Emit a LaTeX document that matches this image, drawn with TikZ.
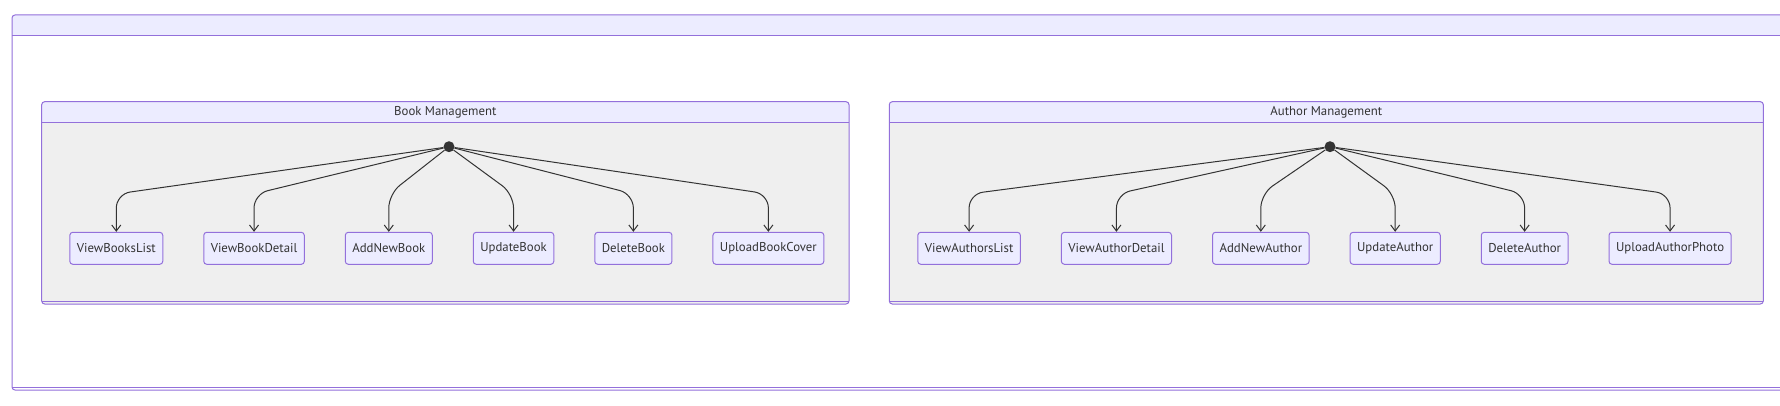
\documentclass[tikz,border=0pt]{standalone}
\usepackage{fontspec}
\setmainfont{PT Sans}
\usetikzlibrary{positioning,arrows.meta}

\definecolor{lav}{HTML}{ECECFF}
\definecolor{purp}{HTML}{9370DB}
\definecolor{clgray}{HTML}{EFEFEF}
\definecolor{ink}{HTML}{333333}

\tikzset{
  state/.style={draw=purp, fill=lav, line width=1pt, rounded corners=3pt,
    minimum height=32pt, inner xsep=7pt, text=ink,
    font=\fontsize{12.8}{15}\selectfont},
  start/.style={circle, fill=ink, inner sep=0pt, minimum size=11pt},
  title/.style={text=ink, font=\fontsize{12.8}{15}\selectfont},
  trans/.style={draw=ink, line width=1pt, rounded corners=14pt,
    -{Straight Barb[length=6pt,width=9pt]}},
  frame/.style={draw=purp, line width=1pt}
}

\begin{document}
\begin{tikzpicture}[x=1pt, y=-1pt, node distance=40pt]
\clip (0,0) rectangle (1780,406);
\fill[white] (0,0) rectangle (1780,406);

% outer frame
\fill[lav, rounded corners=3pt] (12,15) rectangle (1800,36);
\fill[white] (12.5,36) rectangle (1799.5,390);
\draw[frame, rounded corners=3pt] (12,15) rectangle (1800,390);
\draw[frame] (12,36) -- (1800,36);
\draw[frame] (12,387) -- (1800,387);

% Book Management
\fill[clgray, rounded corners=3pt] (41.7,101.7) rectangle (849,304);
\fill[lav, rounded corners=2pt] (41.7,101.7) rectangle (849,122.3);
\draw[frame, rounded corners=3pt] (41.7,101.7) rectangle (849,304);
\draw[frame] (41.7,122.3) -- (849,122.3);
\draw[frame] (41.7,301) -- (849,301);
\node[title] (bmt) at (445.3,112) {Book Management};

% Author Management
\fill[clgray, rounded corners=3pt] (889.3,101.7) rectangle (1763.3,304);
\fill[lav, rounded corners=2pt] (889.3,101.7) rectangle (1763.3,122.3);
\draw[frame, rounded corners=3pt] (889.3,101.7) rectangle (1763.3,304);
\draw[frame] (889.3,122.3) -- (1763.3,122.3);
\draw[frame] (889.3,301) -- (1763.3,301);
\node[title] (amt) at (1326.3,112) {Author Management};

\coordinate (bend) at (0,194);

% book states
\node[start] (bstart) at (449,146.7) {};
\node[state, anchor=west] (vbl) at (69.3,248.3) {ViewBooksList};
\node[state, right=of vbl] (vbd) {ViewBookDetail};
\node[state, right=of vbd] (anb) {AddNewBook};
\node[state, right=of anb] (ub) {UpdateBook};
\node[state, right=of ub] (db) {DeleteBook};
\node[state, right=of db] (ubc) {UploadBookCover};

\foreach \s in {vbl,vbd,anb,ub,db,ubc}
  \draw[trans] (bstart) -- (\s.north |- bend) -- (\s.north);

% author states
\node[start] (astart) at (1330,146.7) {};
\node[state, anchor=west] (val) at (917.3,248.3) {ViewAuthorsList};
\node[state, right=of val] (vad) {ViewAuthorDetail};
\node[state, right=of vad] (ana) {AddNewAuthor};
\node[state, right=of ana] (ua) {UpdateAuthor};
\node[state, right=of ua] (da) {DeleteAuthor};
\node[state, right=of da] (uap) {UploadAuthorPhoto};

\foreach \s in {val,vad,ana,ua,da,uap}
  \draw[trans] (astart) -- (\s.north |- bend) -- (\s.north);
\end{tikzpicture}
\end{document}
